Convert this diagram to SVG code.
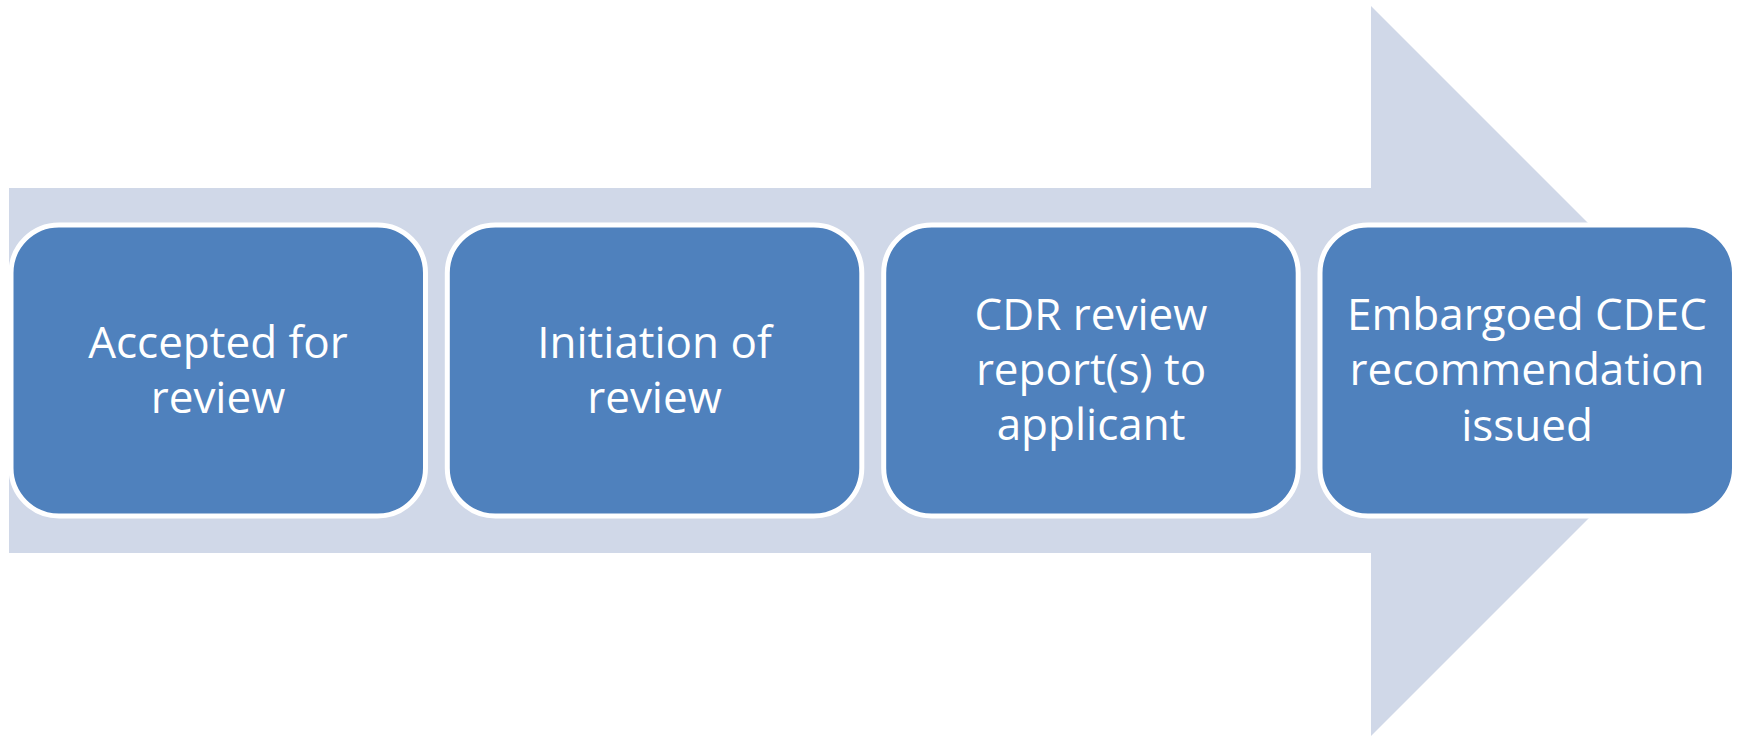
<svg xmlns="http://www.w3.org/2000/svg" width="1741" height="736" viewBox="0 0 1741 736">
  <style>
    .step { fill: #4F81BD; stroke: #FFFFFF; stroke-width: 5; }
    .label { fill: #FFFFFF; font-family: "Open Sans", "Liberation Sans", sans-serif; font-size: 44px; text-anchor: middle; }
  </style>
  <rect width="1741" height="736" fill="#FFFFFF"/>

  <!-- Background process arrow -->
  <g id="process-arrow">
    <polygon points="9,188 1371,188 1371,6 1736,371 1371,736 1371,553 9,553" fill="#D0D8E8"/>
  </g>

  <!-- Steps -->
  <g id="step-accepted">
    <rect class="step" x="11" y="225" width="414.5" height="291" rx="48" ry="48"/>
    <text class="label" x="218" y="358">Accepted for</text>
    <text class="label" x="218" y="413">review</text>
  </g>

  <g id="step-initiation">
    <rect class="step" x="447.3" y="225" width="414.5" height="291" rx="48" ry="48"/>
    <text class="label" x="654.5" y="358">Initiation of</text>
    <text class="label" x="654.5" y="413">review</text>
  </g>

  <g id="step-cdr-report">
    <rect class="step" x="883.7" y="225" width="414.5" height="291" rx="48" ry="48"/>
    <text class="label" x="1091" y="330">CDR review</text>
    <text class="label" x="1091" y="385">report(s) to</text>
    <text class="label" x="1091" y="440">applicant</text>
  </g>

  <g id="step-recommendation">
    <rect class="step" x="1320" y="225" width="414.5" height="291" rx="48" ry="48"/>
    <text class="label" x="1527" y="330">Embargoed CDEC</text>
    <text class="label" x="1527" y="385">recommendation</text>
    <text class="label" x="1527" y="441">issued</text>
  </g>

  <!-- No connectors: the steps sit on the shared arrow -->
  <g id="connectors"></g>
</svg>
